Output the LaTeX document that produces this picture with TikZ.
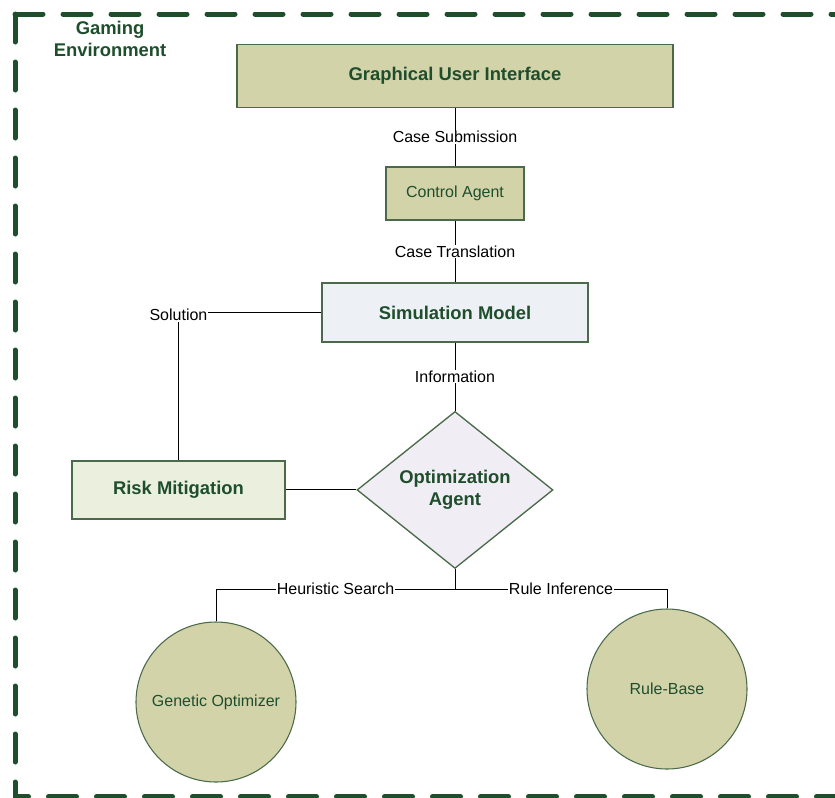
\documentclass[tikz,border=0pt]{standalone}
\usepackage{fontspec}
\setmainfont{Liberation Sans}
\usetikzlibrary{positioning, shapes.geometric}
\definecolor{dkgreen}{HTML}{1F4E2D}
\definecolor{boxline}{HTML}{4A6A4A}
\definecolor{tan}{HTML}{D3D3AA}
\definecolor{simfill}{HTML}{EDF0F5}
\definecolor{riskfill}{HTML}{EBEFDE}
\definecolor{optfill}{HTML}{F0EEF4}

\begin{document}
\begin{tikzpicture}[x=0.75pt,y=-0.75pt,
    box/.style={draw=boxline, line width=1pt, fill=tan, text=dkgreen, font=\fontsize{12}{14}\selectfont},
    bigbox/.style={box, font=\bfseries\fontsize{13.8}{16.5}\selectfont},
    orb/.style={circle, draw=boxline, line width=0.8pt, fill=tan, text=dkgreen, minimum size=120pt, inner sep=0pt, font=\fontsize{12}{14}\selectfont},
    link/.style={line width=0.75pt},
    lbl/.style={fill=white, inner sep=0.5pt, font=\fontsize{12}{14}\selectfont}]
    \useasboundingbox (0,0) rectangle (835,797);
    \draw[dkgreen, line width=3.75pt, line cap=round, dash pattern=on 21pt off 15pt] (15,14) -- (870,14) (15,14) -- (15,796.5) -- (870,796.5);
    \node[text=dkgreen, align=center, font=\bfseries\fontsize{13.8}{16.5}\selectfont] (env) at (110,39) {Gaming\\Environment};

    \node[bigbox, minimum width=327pt, minimum height=47.25pt]                                 (gui)  at (455,76) {Graphical User Interface};
    \node[box, minimum width=103.5pt, minimum height=39.75pt]                                  (ctrl) [below of=gui, node distance=88.1pt]  {Control Agent};
    \node[bigbox, fill=simfill, minimum width=199.5pt, minimum height=44.25pt]                 (sim)  [below of=ctrl, node distance=89.25pt] {Simulation Model};
    \node[bigbox, diamond, fill=optfill, aspect=1.25, inner sep=0pt, minimum width=147pt, minimum height=117.75pt, align=center] (opt) [below of=sim, node distance=133.1pt] {Optimization\\Agent};
    \node[bigbox, fill=riskfill, minimum width=159.75pt, minimum height=43.5pt]                (risk) [left of=opt, node distance=207.4pt]  {Risk Mitigation};
    \node[orb] (gen)  at (216,702) {Genetic Optimizer};
    \node[orb] (rule) at (667,689) {Rule-Base};
    \coordinate (fork) at (455,589);

    \draw[link] (gui)      -- node[lbl] {Case Submission}  (ctrl);
    \draw[link] (ctrl)     -- node[lbl] {Case Translation} (sim);
    \draw[link] (sim)      -- node[lbl] {Information}      (opt);
    \draw[link] (sim.west) -| node[lbl, pos=0.5, yshift=-2pt] {Solution} (risk.north);
    \draw[link] (risk)     -- (opt);
    \draw[link] (opt.south) -- (fork);
    \draw[link] (fork)     -| node[lbl, pos=0.25] {Heuristic Search} (gen.north);
    \draw[link] (fork)     -| node[lbl, pos=0.25] {Rule Inference}   (rule.north);
\end{tikzpicture}
\end{document}
